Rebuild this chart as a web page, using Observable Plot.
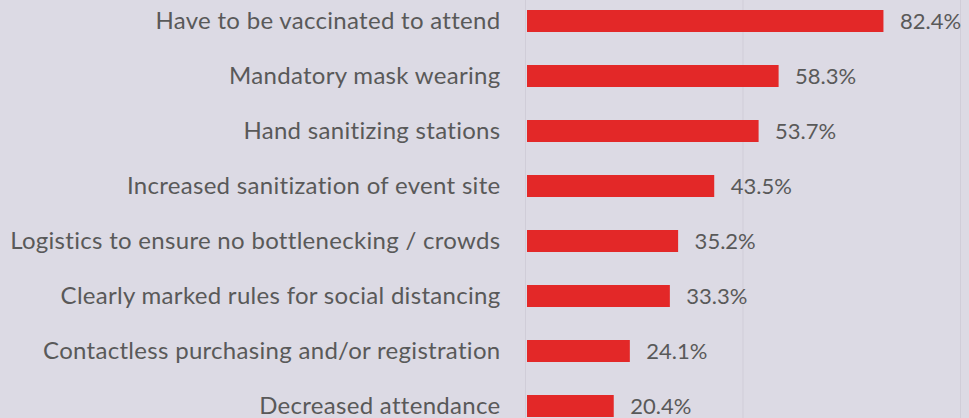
<!DOCTYPE html>
<html><head><meta charset="utf-8">
<script src="https://cdn.jsdelivr.net/npm/d3@7"></script>
<script src="https://cdn.jsdelivr.net/npm/@observablehq/plot@0.6"></script>
<style>
html,body{margin:0;padding:0;background:#dcdae4;}
.cat text{letter-spacing:0.3px;}
</style></head><body><div id="chart"></div>
<script>
const categories = [
  "Have to be vaccinated to attend",
  "Mandatory mask wearing",
  "Hand sanitizing stations",
  "Increased sanitization of event site",
  "Logistics to ensure no bottlenecking / crowds",
  "Clearly marked rules for social distancing",
  "Contactless purchasing and/or registration",
  "Decreased attendance"
];
const values = [82.4, 58.3, 53.7, 43.5, 35.2, 33.3, 24.1, 20.4];
const gridTicks = [0, 50, 100];

const data = categories.map((c, i) => ({category: c, value: values[i]}));
const font = "Lato, 'Open Sans', sans-serif";

const chart = Plot.plot({
  width: 969,
  height: 418,
  margin: 0,
  style: {background: "#dcdae4", fontFamily: font, color: "#595959"},
  x: {domain: [0, 100], range: [525, 960], axis: null},
  y: {domain: categories, range: [-6.5, 433.5], paddingInner: 0.6, paddingOuter: 0.3, axis: null},
  marks: [
    Plot.ruleX(gridTicks, {x: d => d, stroke: "#d0cdd8", strokeWidth: 1}),
    Plot.barX(data, {x: "value", y: "category", fill: "#e32828", insetLeft: 2}),
    Plot.text(data, {x: 0, y: "category", text: "category", textAnchor: "end", dx: -25, fontSize: 24, fill: "#595959", className: "cat"}),
    Plot.text(data, {x: "value", y: "category", text: d => d.value.toFixed(1) + "%", textAnchor: "start", dx: 16, fontSize: 22, fill: "#595959"})
  ]
});
document.getElementById("chart").appendChild(chart);
</script></body></html>
